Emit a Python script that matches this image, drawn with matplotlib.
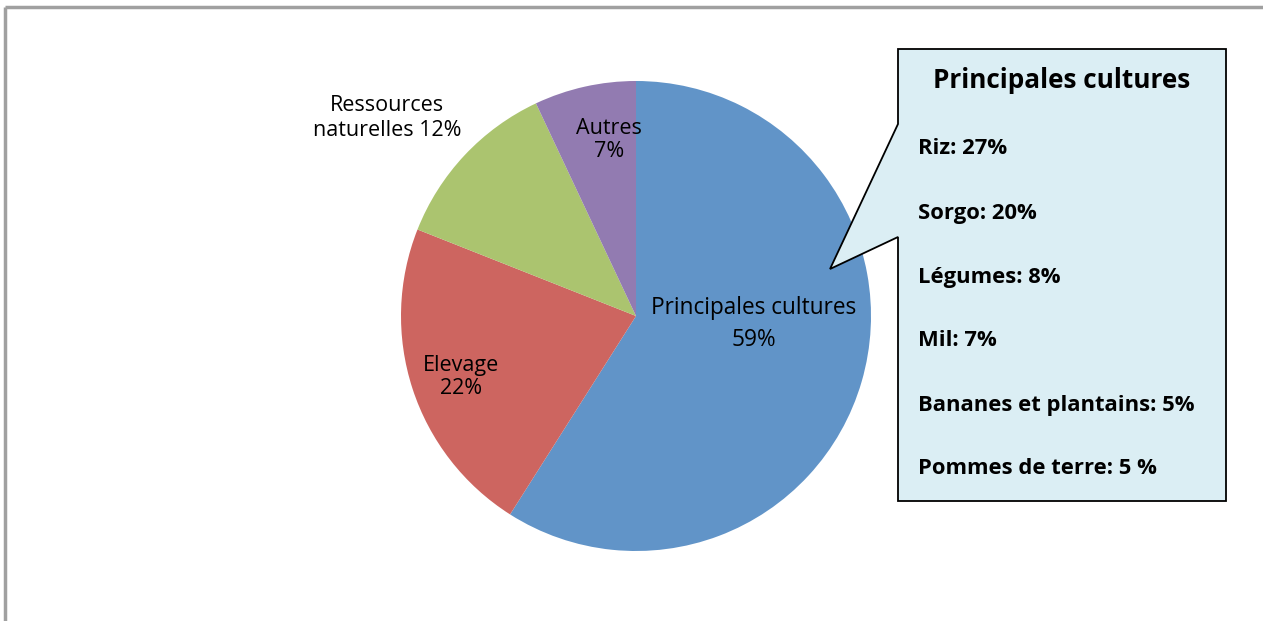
import matplotlib
matplotlib.use("Agg")
from matplotlib import pyplot as plt
from matplotlib.patches import Polygon

# pie data (clockwise from the top)
categories = ["Principales cultures", "Elevage", "Ressources naturelles", "Autres"]
shares = [59, 22, 12, 7]
colors = ["#6194C8", "#CD6560", "#ABC46F", "#927BB1"]

# callout content
box_title = "Principales cultures"
crops = ["Riz: 27%", "Sorgo: 20%", "Légumes: 8%", "Mil: 7%",
         "Bananes et plantains: 5%", "Pommes de terre: 5 %"]

W, H = 1263, 621
plt.rcParams["font.family"] = ["Open Sans", "DejaVu Sans"]

fig = plt.figure(figsize=(W / 100, H / 100), dpi=100)

# pie
cx, cy, r = 636, 316, 235
axp = fig.add_axes([(cx - r) / W, (H - cy - r) / H, 2 * r / W, 2 * r / H])
axp.pie(shares, colors=colors, startangle=90, counterclock=False,
        wedgeprops=dict(linewidth=0))
axp.set_xlim(-1, 1)
axp.set_ylim(-1, 1)
axp.axis("off")

# overlay axes in pixel coordinates (y down)
ax0 = fig.add_axes([0, 0, 1, 1])
ax0.set_xlim(0, W)
ax0.set_ylim(H, 0)
ax0.axis("off")
ax0.patch.set_alpha(0)

# chart area border (only top and left visible in the crop)
ax0.plot([5, W], [7, 7], color="#A0A0A0", lw=2.5, solid_capstyle="butt")
ax0.plot([5, 5], [7, H], color="#A0A0A0", lw=2.5, solid_capstyle="butt")

label_txt = [f"{categories[0]}\n{shares[0]}%",
             f"{categories[1]}\n{shares[1]}%",
             f"Ressources\nnaturelles {shares[2]}%",
             f"{categories[3]}\n{shares[3]}%"]
label_pos = [(754, 324), (461, 377), (387, 118), (609, 140)]
label_size = [16.3, 15.5, 15.5, 15.5]
label_ls = [1.45, 1.1, 1.3, 1.1]
for (x, y), t, fs, ls in zip(label_pos, label_txt, label_size, label_ls):
    ax0.text(x, y, t, ha="center", va="center", fontsize=fs,
             linespacing=ls, color="black", zorder=5)

# callout box with pointer
bx0, bx1, by0, by1 = 898, 1226, 49, 501
pts = [(bx0, by0), (bx1, by0), (bx1, by1), (bx0, by1),
       (bx0, 237), (830, 269), (bx0, 124)]
ax0.add_patch(Polygon(pts, closed=True, facecolor="#DBEEF4",
                      edgecolor="black", lw=1.3, zorder=4))

ax0.text((bx0 + bx1) / 2, 81, box_title, ha="center", va="center",
         fontsize=18.8, fontweight="bold", zorder=6)
for i, c in enumerate(crops):
    ax0.text(918, 149 + 64 * i, c, ha="left", va="center",
             fontsize=15.8, fontweight="bold", zorder=6)

fig.savefig("out.png", dpi=100)
